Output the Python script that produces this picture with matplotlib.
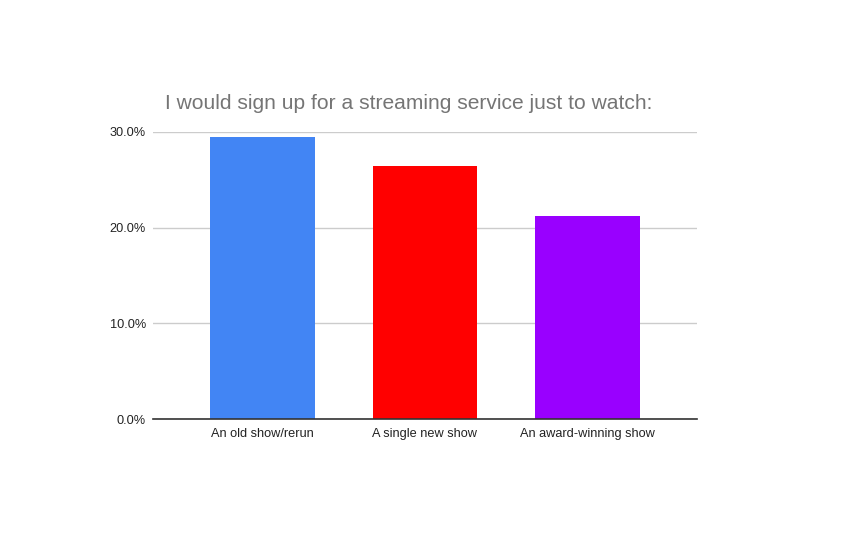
import matplotlib
matplotlib.use("Agg")
import matplotlib.pyplot as plt
from matplotlib.ticker import FuncFormatter

categories = ["An old show/rerun", "A single new show", "An award-winning show"]
values = [29.4, 26.45, 21.25]
colors = ["#4285F4", "#FF0000", "#9900FF"]
yticks = [0, 10, 20, 30]
title = "I would sign up for a streaming service just to watch:"

plt.rcParams['font.family'] = ['Liberation Sans', 'DejaVu Sans']

fig = plt.figure(figsize=(8.66, 5.42), dpi=100)
ax = fig.add_axes([153/866, 1-419.3/542, (697-153)/866, (419.3-131.7)/542])

x = list(range(len(categories)))
ax.bar(x, values, width=0.646, color=colors, zorder=3)
ax.set_xlim(-0.674, len(categories) - 1 + 0.674)
ax.set_ylim(0, 30)
ax.set_yticks(yticks)
ax.yaxis.set_major_formatter(FuncFormatter(lambda v, p: f"{v:.1f}%"))
ax.set_xticks(x)
ax.set_xticklabels(categories)
ax.grid(axis='y', color='#cccccc', linewidth=1, zorder=0)
for s in ['top', 'right', 'left']:
    ax.spines[s].set_visible(False)
ax.spines['bottom'].set_color('#333333')
ax.spines['bottom'].set_linewidth(1.2)
ax.spines['bottom'].set_zorder(4)
ax.tick_params(axis='both', length=0, labelsize=9.2, labelcolor='#222222')
ax.tick_params(axis='y', pad=5)
ax.tick_params(axis='x', pad=6)

fig.text(165/866, 1-103.5/542, title, fontsize=15.1, color='#757575', ha='left', va='center')

fig.savefig("out.png", dpi=100, facecolor='white')
